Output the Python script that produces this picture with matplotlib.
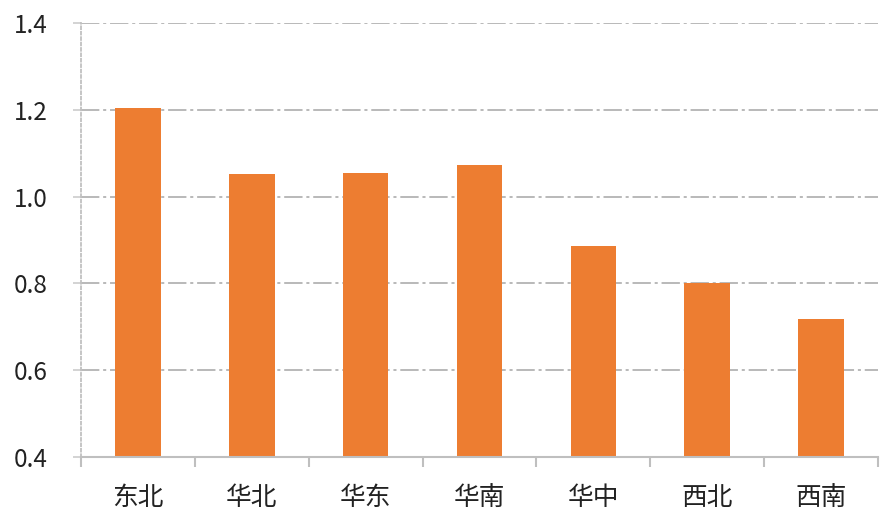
import matplotlib
matplotlib.use("Agg")
import matplotlib.pyplot as plt
from matplotlib.ticker import FixedLocator

plt.rcParams['font.family'] = ['Noto Sans CJK SC', 'DejaVu Sans']

categories = ['东北', '华北', '华东', '华南', '华中', '西北', '西南']
values = [1.205, 1.052, 1.054, 1.073, 0.886, 0.801, 0.718]
yticks = [0.4, 0.6, 0.8, 1.0, 1.2, 1.4]
ytick_labels = ['0.4', '0.6', '0.8', '1.0', '1.2', '1.4']

fig = plt.figure(figsize=(8.96, 5.23), dpi=100)
ax = fig.add_axes([81/896, 1-457/523, (878-81)/896, (457-23)/523])

x = list(range(len(categories)))
ax.bar(x, values, width=0.4, color='#ED7D31', zorder=3)

ax.set_ylim(0.4, 1.4)
ax.set_xlim(-0.5, len(categories) - 0.5)
ax.set_yticks(yticks)
ax.set_yticklabels(ytick_labels, fontsize=17.5, color='#222222')
ax.set_xticks(x)
ax.set_xticklabels(categories, fontsize=18.5, color='#222222')
ax.xaxis.set_minor_locator(FixedLocator([i - 0.5 for i in range(len(categories) + 1)]))

ax.tick_params(axis='x', which='major', length=0, pad=20)
ax.tick_params(axis='x', which='minor', length=7, width=1.5, color='#bfbfbf', direction='out')
ax.tick_params(axis='y', which='major', length=6, width=1.2, color='#cccccc', pad=18)

for y in yticks[1:]:
    ax.axhline(y, color='#a6a6a6', lw=1.1, linestyle=(0, (12, 2.5, 2, 2.5)), zorder=1)

for s in ['top', 'right']:
    ax.spines[s].set_visible(False)
ax.spines['left'].set_color('#c0c0c0')
ax.spines['left'].set_linestyle((0, (1.5, 1.5)))
ax.spines['left'].set_linewidth(1.3)
ax.spines['bottom'].set_color('#bfbfbf')
ax.spines['bottom'].set_linewidth(1.5)
ax.spines['bottom'].set_zorder(4)

fig.savefig('out.png', dpi=100)
